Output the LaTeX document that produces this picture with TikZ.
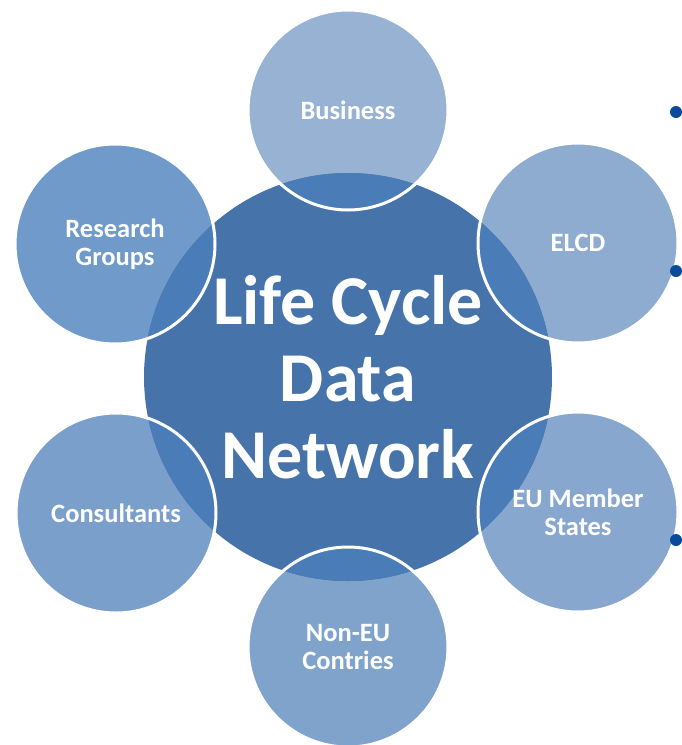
\documentclass[tikz,border=0pt]{standalone}
\usepackage{fontspec}
\setmainfont{Carlito}
\usetikzlibrary{positioning}

\definecolor{hubblue}{HTML}{4673AA}
\definecolor{overlapblue}{HTML}{4A7CB7}
\definecolor{dotblue}{HTML}{0A4A9C}
\definecolor{businessblue}{HTML}{97B2D3}
\definecolor{elcdblue}{HTML}{8DACD0}
\definecolor{memberblue}{HTML}{88A7CF}
\definecolor{noneublue}{HTML}{7FA3CB}
\definecolor{consultblue}{HTML}{7A9FCB}
\definecolor{researchblue}{HTML}{6F9ACA}

\begin{document}
\begin{tikzpicture}[x=1pt, y=-1pt]
    \tikzstyle{member} = [circle, minimum size=200pt, inner sep=0pt]
    \tikzstyle{hub} = [circle, minimum size=408pt, inner sep=0pt, fill=hubblue]
    \tikzstyle{ring} = [draw=white, line width=3pt]
    \tikzstyle{label} = [text=white, align=center, font=\bfseries\fontsize{26.5}{28}\selectfont]
    \tikzstyle{title} = [text=white, align=center, font=\bfseries\fontsize{70}{77}\selectfont]
    \tikzstyle{bullet} = [circle, minimum size=12pt, inner sep=0pt, fill=dotblue]

    \useasboundingbox (0,0) rectangle (681,745);

    % outer circles
    \node (business) [member, fill=businessblue] at (348,110) {};
    \node (elcd) [member, fill=elcdblue] at (578,243) {};
    \node (eu) [member, fill=memberblue] at (578,512) {};
    \node (noneu) [member, fill=noneublue] at (348,647) {};
    \node (consult) [member, fill=consultblue] at (116,513) {};
    \node (research) [member, fill=researchblue] at (115,244) {};

    % centre
    \node (hub) [hub] at (348,377) {};
    \begin{scope}
        \clip (hub.center) circle (204pt);
        \foreach \m in {business, elcd, eu, noneu, consult, research}
            \fill[overlapblue] (\m.center) circle (100pt);
    \end{scope}
    \foreach \m in {business, elcd, eu, noneu, consult, research}
        \draw[ring] (\m.center) circle (100pt);

    % texts
    \node (hubtext) [title] at (hub.center) {Life Cycle\\Data\\Network};
    \node (businesstext) [label] at (business.center) {Business};
    \node (elcdtext) [label] at (elcd.center) {ELCD};
    \node (eutext) [label] at (eu.center) {EU Member\\States};
    \node (noneutext) [label] at (noneu.center) {Non-EU\\Contries};
    \node (consulttext) [label] at (consult.center) {Consultants};
    \node (researchtext) [label] at (research.center) {Research\\Groups};

    % bullets at the right edge
    \node (dota) [bullet] at (676,112) {};
    \node (dotb) [bullet] at (676,271) {};
    \node (dotc) [bullet] at (676,540) {};
\end{tikzpicture}
\end{document}
